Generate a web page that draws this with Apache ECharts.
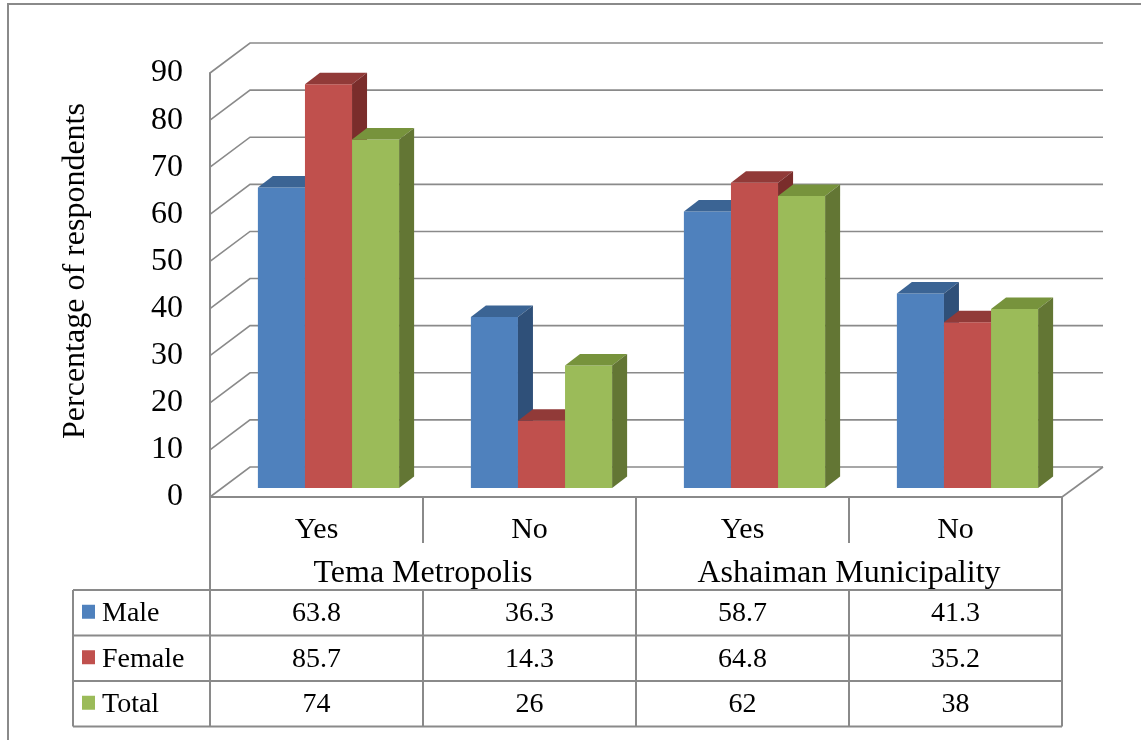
<!DOCTYPE html>
<html>
<head>
<meta charset="utf-8">
<script src="https://cdn.jsdelivr.net/npm/echarts@6/dist/echarts.min.js"></script>
<style>
  html, body { margin: 0; padding: 0; background: #ffffff; }
  #chart { width: 1141px; height: 740px; }
</style>
</head>
<body>
<div id="chart"></div>
<script>
// Responses by district and sex (percentage of respondents)
const categories = ['Yes', 'No', 'Yes', 'No'];
const groups = ['Tema Metropolis', 'Ashaiman Municipality'];
const seriesNames = ['Male', 'Female', 'Total'];
const male = [63.8, 36.3, 58.7, 41.3];
const female = [85.7, 14.3, 64.8, 35.2];
const total = [74, 26, 62, 38];
const gridValues = [0, 10, 20, 30, 40, 50, 60, 70, 80, 90];

const FONT = 'Liberation Serif, Times New Roman, serif';
const LINE = '#8a8a8a';

// oblique projection: full depth of the box and position of the bars inside it
const WALL = [40, -30];
const BAR_FRONT = [12, -9];
const BAR_DEPTH = [15, -11.5];

const palette = [
  { front: '#4F81BD', top: '#3B6494', side: '#2F5079' },
  { front: '#C0504D', top: '#913A38', side: '#7A2D2B' },
  { front: '#9BBB59', top: '#77933C', side: '#637634' }
];

function barRenderer(sIdx) {
  const c = palette[sIdx];
  return function (params, api) {
    const cat = api.value(0), v = api.value(1);
    const base = api.coord([cat, 0]);
    const top = api.coord([cat, v]);
    const band = api.size([1, 0])[0];
    const bw = band * 0.221;
    const x0 = base[0] - 1.5 * bw + sIdx * bw + BAR_FRONT[0];
    const x1 = x0 + bw;
    const yb = base[1] + BAR_FRONT[1];
    const yt = top[1] + BAR_FRONT[1];
    const dx = BAR_DEPTH[0], dy = BAR_DEPTH[1];
    return {
      type: 'group',
      children: [
        { type: 'rect', shape: { x: x0, y: yt, width: bw, height: yb - yt }, style: { fill: c.front } },
        { type: 'polygon', shape: { points: [[x0, yt], [x1, yt], [x1 + dx, yt + dy], [x0 + dx, yt + dy]] }, style: { fill: c.top } },
        { type: 'polygon', shape: { points: [[x1, yt], [x1 + dx, yt + dy], [x1 + dx, yb + dy], [x1, yb]] }, style: { fill: c.side } }
      ]
    };
  };
}

// back wall and side wall gridlines
function wallRenderer(params, api) {
  const cs = params.coordSys;
  const y = api.coord([0, api.value(1)])[1];
  const xl = cs.x, xr = cs.x + cs.width;
  const children = [{
    type: 'polyline',
    shape: { points: [[xl, y], [xl + WALL[0], y + WALL[1]], [xr + WALL[0] + 1, y + WALL[1]]] },
    style: { stroke: LINE, lineWidth: 1.6, fill: null }
  }];
  if (api.value(1) === 0) {
    children.push({
      type: 'line',
      shape: { x1: xr, y1: y, x2: xr + WALL[0] + 1, y2: y + WALL[1] },
      style: { stroke: LINE, lineWidth: 1.6 }
    });
  }
  return { type: 'group', children: children };
}

// data table under the plot
const ROW_CAT = 33, ROW_GRP_LINE = 46, ROW_GRP = 77, ROW1 = 93, ROW_H = 45.5;
function tableRenderer(params, api) {
  const cat = api.value(0);
  const base = api.coord([cat, 0]);
  const band = api.size([1, 0])[0];
  const xl = base[0] - band / 2, xr = base[0] + band / 2;
  const y0 = base[1];
  const txt = (x, y, s, size) => ({
    type: 'text', x: x, y: y,
    style: { text: s, font: size + 'px ' + FONT, fill: '#000', align: 'center', verticalAlign: 'middle' }
  });
  const ln = (x1, y1, x2, y2) => ({
    type: 'line', shape: { x1: x1, y1: y1, x2: x2, y2: y2 },
    style: { stroke: LINE, lineWidth: 2 }
  });
  const children = [];
  const vals = [api.value(1), api.value(2), api.value(3)];
  children.push(txt(base[0], y0 + ROW_CAT, categories[cat], 30));
  // top line of the column
  children.push(ln(xl, y0, xr, y0));
  // right edge of this column
  if (cat % 2 === 0) {
    children.push(ln(xr, y0, xr, y0 + ROW_GRP_LINE));
    children.push(ln(xr, y0 + ROW1, xr, y0 + ROW1 + 3 * ROW_H));
    children.push(txt(xr, y0 + ROW_GRP, groups[cat / 2], 32));
  } else {
    children.push(ln(xr, y0, xr, y0 + ROW1 + 3 * ROW_H));
  }
  if (cat === 0) {
    children.push(ln(xl, y0, xl, y0 + ROW1 + 3 * ROW_H));
  }
  for (let r = 0; r < 3; r++) {
    const yc = y0 + ROW1 + r * ROW_H + ROW_H / 2 + 1;
    children.push(txt(base[0], yc, String(vals[r]), 28));
    children.push(ln(xl, y0 + ROW1 + r * ROW_H, xr, y0 + ROW1 + r * ROW_H));
  }
  children.push(ln(xl, y0 + ROW1 + 3 * ROW_H, xr, y0 + ROW1 + 3 * ROW_H));
  return { type: 'group', children: children };
}

// legend column at the left of the table
function legendRenderer(params, api) {
  const cs = params.coordSys;
  const y0 = cs.y + cs.height;
  const xl = 73, xr = cs.x;
  const children = [];
  const ln = (x1, y1, x2, y2) => ({
    type: 'line', shape: { x1: x1, y1: y1, x2: x2, y2: y2 },
    style: { stroke: LINE, lineWidth: 2 }
  });
  children.push(ln(xl, y0 + ROW1, xl, y0 + ROW1 + 3 * ROW_H));
  for (let r = 0; r <= 3; r++) {
    children.push(ln(xl, y0 + ROW1 + r * ROW_H, xr, y0 + ROW1 + r * ROW_H));
  }
  for (let r = 0; r < 3; r++) {
    const yc = y0 + ROW1 + r * ROW_H + ROW_H / 2;
    children.push({ type: 'rect', shape: { x: 82, y: yc - 8, width: 13, height: 14 }, style: { fill: palette[r].front } });
    children.push({
      type: 'text', x: 102, y: yc + 1,
      style: { text: seriesNames[r], font: '28px ' + FONT, fill: '#000', align: 'left', verticalAlign: 'middle' }
    });
  }
  return { type: 'group', children: children };
}

const chart = echarts.init(document.getElementById('chart'), null, { renderer: 'canvas' });
const tableData = categories.map((c, i) => [i, male[i], female[i], total[i]]);
const seriesData = [male, female, total];

chart.setOption({
  backgroundColor: '#ffffff',
  animation: false,
  grid: { left: 210, top: 73, width: 852, height: 424 },
  xAxis: {
    type: 'category', data: categories, show: false
  },
  yAxis: {
    type: 'value', min: 0, max: 90, interval: 10,
    axisLine: { show: true, lineStyle: { color: LINE, width: 2 } },
    axisTick: { show: false },
    splitLine: { show: false },
    axisLabel: { margin: 27, fontSize: 32, fontFamily: FONT, color: '#000', padding: [8, 0, 0, 0] }
  },
  graphic: [
    {
      type: 'rect', shape: { x: 8, y: 4, width: 1200, height: 800 },
      style: { fill: null, stroke: '#8a8a8a', lineWidth: 2 }, silent: true, z: -10
    },
    {
      type: 'text', x: 76, y: 271, rotation: Math.PI / 2,
      style: { text: 'Percentage of respondents', font: '32px ' + FONT, fill: '#000', align: 'center', verticalAlign: 'middle' }
    }
  ],
  series: [
    { type: 'custom', name: 'wall', renderItem: wallRenderer, data: gridValues.map(v => [0, v]), z: 1, silent: true },
    { type: 'custom', name: 'table', renderItem: tableRenderer, data: tableData, z: 1, silent: true, encode: { x: 0, y: 1 } },
    { type: 'custom', name: 'legend', renderItem: legendRenderer, data: [[0, 0]], z: 1, silent: true }
  ].concat(seriesNames.map((name, s) => ({
    type: 'custom', name: name, renderItem: barRenderer(s), z: 2,
    data: seriesData[s].map((v, i) => [i, v]), encode: { x: 0, y: 1 }
  })))
});
</script>
</body>
</html>
